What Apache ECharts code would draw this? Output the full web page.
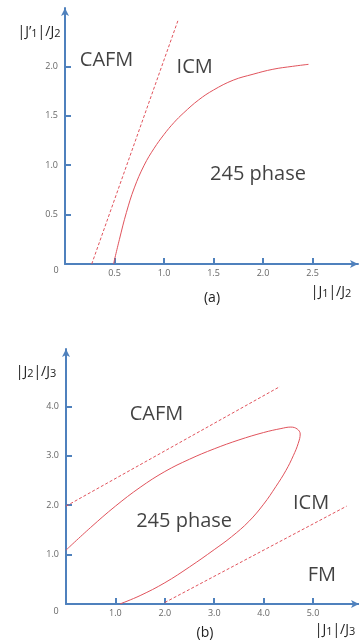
<!DOCTYPE html>
<html>
<head>
<meta charset="utf-8">
<script src="https://cdn.jsdelivr.net/npm/echarts@6/dist/echarts.min.js"></script>
<style>
  html, body { margin: 0; padding: 0; background: #fff; }
  #chart { width: 359px; height: 644px; }
</style>
</head>
<body>
<div id="chart"></div>
<script>
// ---- panel (a): |J'1|/J2 versus |J1|/J2 ----
const ticksA_x = [0.5, 1.0, 1.5, 2.0, 2.5];
const ticksA_y = [0.5, 1.0, 1.5, 2.0];
const dashA = [[0.27, 0], [1.14, 2.46]];
const curveA = [
  [0.49, 0], [0.55, 0.25], [0.62, 0.52], [0.7, 0.77], [0.8, 1.0],
  [0.9, 1.17], [1.0, 1.31], [1.1, 1.43], [1.2, 1.53], [1.35, 1.66],
  [1.5, 1.76], [1.7, 1.86], [1.9, 1.92], [2.1, 1.97], [2.3, 2.0], [2.46, 2.02]
];
const labelsA = [
  [0.42, 2.06, 'CAFM'],
  [1.31, 1.99, 'ICM'],
  [1.95, 0.91, '245 phase']
];

// ---- panel (b): |J2|/J3 versus |J1|/J3 ----
const ticksB_x = [1, 2, 3, 4, 5];
const ticksB_y = [1, 2, 3, 4];
const dashB_upper = [[0, 1.98], [4.33, 4.40]];
const dashB_lower = [[2.0, 0.03], [5.68, 1.98]];
// boundary of the 245 phase, traced from (0, 1.09) round the tip to (1.09, 0)
const curveB = [
  [0, 1.09], [0.5, 1.55], [1.0, 1.98], [1.5, 2.36], [2.0, 2.68],
  [2.5, 2.93], [3.0, 3.14], [3.5, 3.32], [4.0, 3.47], [4.35, 3.55],
  [4.55, 3.58], [4.68, 3.54], [4.74, 3.44], [4.7, 3.25], [4.6, 3.0],
  [4.45, 2.7], [4.25, 2.38], [4.0, 2.02], [3.7, 1.67], [3.35, 1.36],
  [3.0, 1.1], [2.5, 0.75], [2.0, 0.43], [1.5, 0.17], [1.09, 0]
];
const labelsB = [
  [1.83, 3.83, 'CAFM'],
  [2.39, 1.68, '245 phase'],
  [4.96, 2.04, 'ICM'],
  [5.18, 0.59, 'FM']
];

const AXIS_BLUE = '#4f81bd';
const CURVE_RED = '#e0535c';
const TICK_GREY = '#666';
const FONT = '"Open Sans", sans-serif';

function axis(min, max, interval, ticks, labelMargin, extra) {
  return Object.assign({
    type: 'value', min: min, max: max, interval: interval,
    splitLine: { show: false },
    axisLine: {
      show: true, onZero: false,
      symbol: ['none', 'arrow'], symbolSize: [6, 8],
      lineStyle: { color: AXIS_BLUE, width: 2 }
    },
    axisTick: {
      show: true, inside: true, length: 6, customValues: ticks,
      lineStyle: { color: AXIS_BLUE, width: 2 }
    },
    axisLabel: {
      customValues: ticks, margin: labelMargin,
      color: TICK_GREY, fontSize: 9, fontFamily: FONT,
      formatter: v => v.toFixed(1)
    }
  }, extra || {});
}

function lineSeries(data, idx, dashed) {
  return {
    type: 'line', data: data, xAxisIndex: idx, yAxisIndex: idx,
    smooth: dashed ? false : 0.4, symbol: 'none', silent: true,
    lineStyle: { color: CURVE_RED, width: 1, type: dashed ? [3, 2] : 'solid' }
  };
}

function labelSeries(data, idx) {
  return {
    type: 'scatter', data: data, xAxisIndex: idx, yAxisIndex: idx,
    symbolSize: 0, silent: true,
    label: {
      show: true, position: 'inside', formatter: p => p.data[2],
      color: '#111', fontSize: 20, fontFamily: FONT
    }
  };
}

const chart = echarts.init(document.getElementById('chart'), null, { renderer: 'canvas' });

const nameRich = {
  n: { fontSize: 14, fontFamily: FONT, color: '#222' },
  s: { fontSize: 11, fontFamily: FONT, color: '#222', verticalAlign: 'bottom', padding: [3, 0, 0, 0] }
};

function txt(x, y, rich, align) {
  return {
    type: 'text', x: x, y: y, silent: true,
    style: {
      text: rich, rich: nameRich, align: align || 'center', verticalAlign: 'middle',
      font: '14px ' + FONT, fill: '#222'
    }
  };
}

function originLabel(x, y) {
  return {
    type: 'text', x: x, y: y, silent: true,
    style: { text: '0', align: 'center', verticalAlign: 'middle', font: '9px ' + FONT, fill: TICK_GREY }
  };
}

chart.setOption({
  animation: false,
  grid: [
    { left: 65, top: 8, width: 293, height: 256 },
    { left: 66, top: 349, width: 293, height: 255 }
  ],
  xAxis: [
    axis(0, 2.96, 0.5, ticksA_x, 5, { gridIndex: 0 }),
    axis(0, 5.93, 1, ticksB_x, 5, { gridIndex: 1 })
  ],
  yAxis: [
    axis(0, 2.59, 0.5, ticksA_y, 7, { gridIndex: 0 }),
    axis(0, 5.16, 1, ticksB_y, 7, { gridIndex: 1 })
  ],
  series: [
    lineSeries(dashA, 0, true),
    lineSeries(curveA, 0, false),
    labelSeries(labelsA, 0),
    lineSeries(dashB_upper, 1, true),
    lineSeries(dashB_lower, 1, true),
    lineSeries(curveB, 1, false),
    labelSeries(labelsB, 1)
  ],
  graphic: [
    // axis titles
    txt(39, 32, '{n||J\u2019}{s|1}{n||/J}{s|2}'),
    txt(331, 292, '{n||J}{s|1}{n||/J}{s|2}'),
    txt(36, 372, '{n||J}{s|2}{n||/J}{s|3}'),
    txt(335, 630, '{n||J}{s|1}{n||/J}{s|3}'),
    // panel captions
    txt(212, 298, '{n|(a)}'),
    txt(205, 633, '{n|(b)}'),
    // shared origin labels
    originLabel(56, 270),
    originLabel(56, 611)
  ]
});
</script>
</body>
</html>
